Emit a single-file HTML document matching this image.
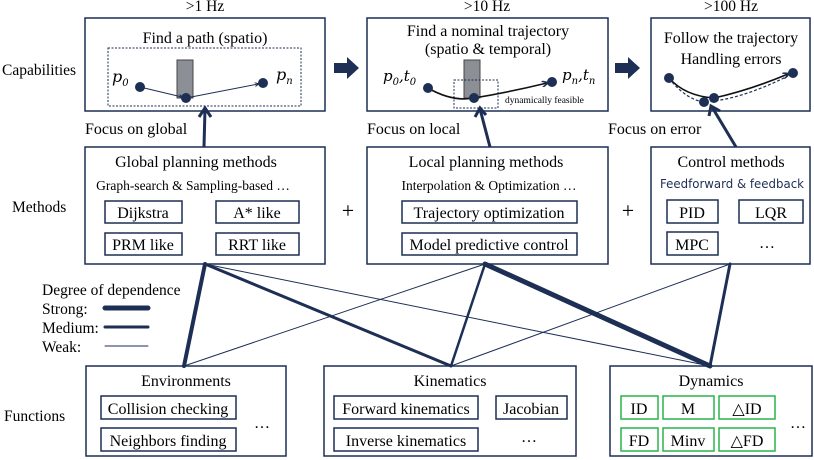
<!DOCTYPE html>
<html><head><meta charset="utf-8"><style>
html,body{margin:0;padding:0;background:#fff;}
svg{display:block;font-family:"Liberation Serif",serif;}
</style></head><body>
<svg width="814" height="460" viewBox="0 0 814 460" xmlns="http://www.w3.org/2000/svg">
<defs>
<marker id="ah2" viewBox="0 0 10 10" refX="8" refY="5" markerWidth="4" markerHeight="4" orient="auto"><path d="M0,0 L10,5 L0,10" fill="none" stroke="#1d2f55" stroke-width="2.5"/></marker>
</defs>
<g fill="#000" font-size="15.5">
<text x="2" y="75">Capabilities</text>
<text x="12" y="212">Methods</text>
<text x="4" y="421">Functions</text>
<text x="205" y="11" text-anchor="middle">&gt;1 Hz</text>
<text x="487" y="11" text-anchor="middle">&gt;10 Hz</text>
<text x="731" y="11" text-anchor="middle">&gt;100 Hz</text>
</g>
<g fill="none" stroke="#1d2f55" stroke-width="1.5">
<rect x="85" y="18" width="240" height="93"/>
<rect x="367" y="18" width="241" height="93"/>
<rect x="651" y="18" width="159" height="93"/>
<rect x="85" y="147" width="240" height="117"/>
<rect x="367" y="147" width="241" height="117"/>
<rect x="651" y="147" width="159" height="117"/>
<rect x="86" y="366" width="200" height="90"/>
<rect x="324" y="366" width="252" height="90"/>
<rect x="610" y="366" width="202" height="90"/>
</g>
<g font-size="16" fill="#000" text-anchor="middle">
<text x="205" y="43">Find a path (spatio)</text>
<text x="488" y="36">Find a nominal trajectory</text>
<text x="488" y="54">(spatio &amp; temporal)</text>
<text x="731" y="43">Follow the trajectory</text>
<text x="731" y="64">Handling errors</text>
</g>
<rect x="108" y="48" width="193" height="58" fill="none" stroke="#1d2f55" stroke-width="1" stroke-dasharray="2,1.5"/>
<rect x="177" y="60" width="16" height="38" fill="#8c8f96" stroke="#444" stroke-width="1"/>
<line x1="140" y1="87" x2="182" y2="97" stroke="#1d2f55" stroke-width="1" marker-end="url(#ah2)"/>
<line x1="186" y1="98" x2="258" y2="84" stroke="#1d2f55" stroke-width="1" marker-end="url(#ah2)"/>
<circle cx="140" cy="87" r="5" fill="#1d2f55"/><circle cx="186" cy="98" r="5" fill="#1d2f55"/><circle cx="263" cy="83" r="5" fill="#1d2f55"/>
<text x="112" y="82" font-size="16" font-style="italic" font-family="DejaVu Serif,serif">p<tspan font-size="10" dy="4">0</tspan></text>
<text x="276" y="80" font-size="16" font-style="italic" font-family="DejaVu Serif,serif">p<tspan font-size="10" dy="4">n</tspan></text>

<rect x="464" y="60" width="16" height="38" fill="#8c8f96" stroke="#444" stroke-width="1"/>
<rect x="454" y="80" width="44" height="28" fill="none" stroke="#1d2f55" stroke-width="1" stroke-dasharray="2,1.5"/>
<path d="M428,88 Q452,102 474,98 Q510,92 547,83" fill="none" stroke="#111" stroke-width="1.6" marker-end="url(#ah2)"/>
<circle cx="428" cy="88" r="5" fill="#1d2f55"/><circle cx="474" cy="98" r="5" fill="#1d2f55"/><circle cx="552" cy="82" r="5" fill="#1d2f55"/>
<text x="383" y="81" font-size="15" font-style="italic" font-family="DejaVu Serif,serif">p<tspan font-size="10" dy="4">0</tspan><tspan dy="-4">,t</tspan><tspan font-size="10" dy="4">0</tspan></text>
<text x="562" y="80" font-size="15" font-style="italic" font-family="DejaVu Serif,serif">p<tspan font-size="10" dy="4">n</tspan><tspan dy="-4">,t</tspan><tspan font-size="10" dy="4">n</tspan></text>
<text x="505" y="103" font-size="9.5">dynamically feasible</text>

<path d="M669,78 Q685,96 714,98 Q750,90 788,74" fill="none" stroke="#111" stroke-width="1.6" marker-end="url(#ah2)"/>
<path d="M672,82 Q688,100 704,102 Q740,100 788,76" fill="none" stroke="#1d2f55" stroke-width="1.2" stroke-dasharray="3,2"/>
<circle cx="669" cy="78" r="5" fill="#1d2f55"/><circle cx="714" cy="98" r="5" fill="#1d2f55"/><circle cx="704" cy="102" r="5" fill="#1d2f55"/><circle cx="793" cy="73" r="5" fill="#1d2f55"/>

<path d="M334,63 H347 V57 L359,68 L347,79 V73 H334 Z" fill="#1d2f55"/>
<path d="M615,63 H628 V57 L640,68 L628,79 V73 H615 Z" fill="#1d2f55"/>

<g font-size="16" fill="#000">
<text x="85" y="134">Focus on global</text>
<text x="367" y="134">Focus on local</text>
<text x="608" y="134">Focus on error</text>
</g>
<g stroke="#1d2f55" stroke-width="3" fill="none">
<line x1="204" y1="147" x2="205" y2="109"/><path d="M199,117 L205,108 L211,117"/>
<line x1="490" y1="147" x2="480" y2="109"/><path d="M475,117 L480,108 L486,115"/>
<line x1="736" y1="147" x2="712" y2="107"/><path d="M709,116 L711,106 L720,111"/>
</g>

<g font-size="16" fill="#000" text-anchor="middle">
<text x="196" y="167">Global planning methods</text>
<text x="193" y="190" font-size="13.5">Graph-search &amp; Sampling-based …</text>
<text x="486" y="167">Local planning methods</text>
<text x="489" y="190" font-size="13.5">Interpolation &amp; Optimization …</text>
<text x="731" y="167">Control methods</text>
<text x="732" y="188" font-size="12" font-family="DejaVu Sans,sans-serif" fill="#1d2f55" textLength="144" lengthAdjust="spacingAndGlyphs">Feedforward &amp; feedback</text>
</g>
<g fill="none" stroke="#1d2f55" stroke-width="1.5">
<rect x="105" y="201" width="77" height="22"/><rect x="216" y="201" width="83" height="22"/>
<rect x="105" y="233" width="77" height="22"/><rect x="216" y="233" width="83" height="22"/>
<rect x="402" y="201" width="175" height="22"/><rect x="402" y="233" width="175" height="22"/>
<rect x="667" y="200" width="51" height="23"/><rect x="739" y="200" width="64" height="23"/>
<rect x="667" y="232" width="51" height="23"/>
</g>
<g font-size="16" fill="#000" text-anchor="middle">
<text x="143" y="218">Dijkstra</text><text x="257" y="218">A* like</text>
<text x="143" y="250">PRM like</text><text x="257" y="250">RRT like</text>
<text x="489" y="218">Trajectory optimization</text><text x="489" y="250">Model predictive control</text>
<text x="692" y="218">PID</text><text x="771" y="218">LQR</text>
<text x="692" y="250">MPC</text><text x="767" y="248">…</text>
<text x="348" y="218" font-size="22">+</text><text x="628" y="218" font-size="22">+</text>
</g>

<g stroke="#1d2f55" stroke-linecap="round">
<line x1="205" y1="264" x2="184" y2="366" stroke-width="4"/>
<line x1="205" y1="264" x2="451" y2="366" stroke-width="3"/>
<line x1="205" y1="264" x2="710" y2="366" stroke-width="1"/>
<line x1="485" y1="264" x2="184" y2="366" stroke-width="1"/>
<line x1="485" y1="264" x2="451" y2="366" stroke-width="2.5"/>
<line x1="485" y1="264" x2="710" y2="366" stroke-width="5"/>
<line x1="730" y1="264" x2="451" y2="366" stroke-width="1"/>
<line x1="730" y1="264" x2="710" y2="366" stroke-width="3"/>
<line x1="105" y1="308" x2="148" y2="308" stroke-width="5"/>
<line x1="105" y1="327" x2="148" y2="327" stroke-width="3"/>
<line x1="105" y1="346" x2="148" y2="346" stroke-width="1"/>
</g>
<g font-size="15.5" fill="#000">
<text x="42" y="295">Degree of dependence</text>
<text x="42" y="314">Strong:</text>
<text x="42" y="333">Medium:</text>
<text x="42" y="352">Weak:</text>
</g>

<g font-size="16" fill="#000" text-anchor="middle">
<text x="186" y="386">Environments</text>
<text x="450" y="386">Kinematics</text>
<text x="711" y="386">Dynamics</text>
</g>
<g fill="none" stroke="#1d2f55" stroke-width="1.5">
<rect x="101" y="396" width="135" height="23"/><rect x="101" y="428" width="135" height="23"/>
<rect x="334" y="396" width="144" height="23"/><rect x="496" y="396" width="71" height="23"/>
<rect x="334" y="428" width="144" height="23"/>
</g>
<g fill="none" stroke="#2bb34a" stroke-width="1.5">
<rect x="621" y="396" width="37" height="23"/><rect x="663" y="396" width="51" height="23"/><rect x="719" y="396" width="56" height="23"/>
<rect x="621" y="428" width="37" height="23"/><rect x="663" y="428" width="51" height="23"/><rect x="719" y="428" width="56" height="23"/>
</g>
<g font-size="16" fill="#000" text-anchor="middle">
<text x="168" y="414">Collision checking</text><text x="168" y="446">Neighbors finding</text>
<text x="262" y="428">…</text>
<text x="406" y="414">Forward kinematics</text><text x="531" y="414">Jacobian</text>
<text x="406" y="446">Inverse kinematics</text><text x="529" y="442">…</text>
<text x="639" y="414">ID</text><text x="688" y="414">M</text><text x="747" y="414">△ID</text>
<text x="639" y="446">FD</text><text x="688" y="446">Minv</text><text x="747" y="446">△FD</text>
<text x="798" y="428">…</text>
</g>
</svg>
</body></html>
